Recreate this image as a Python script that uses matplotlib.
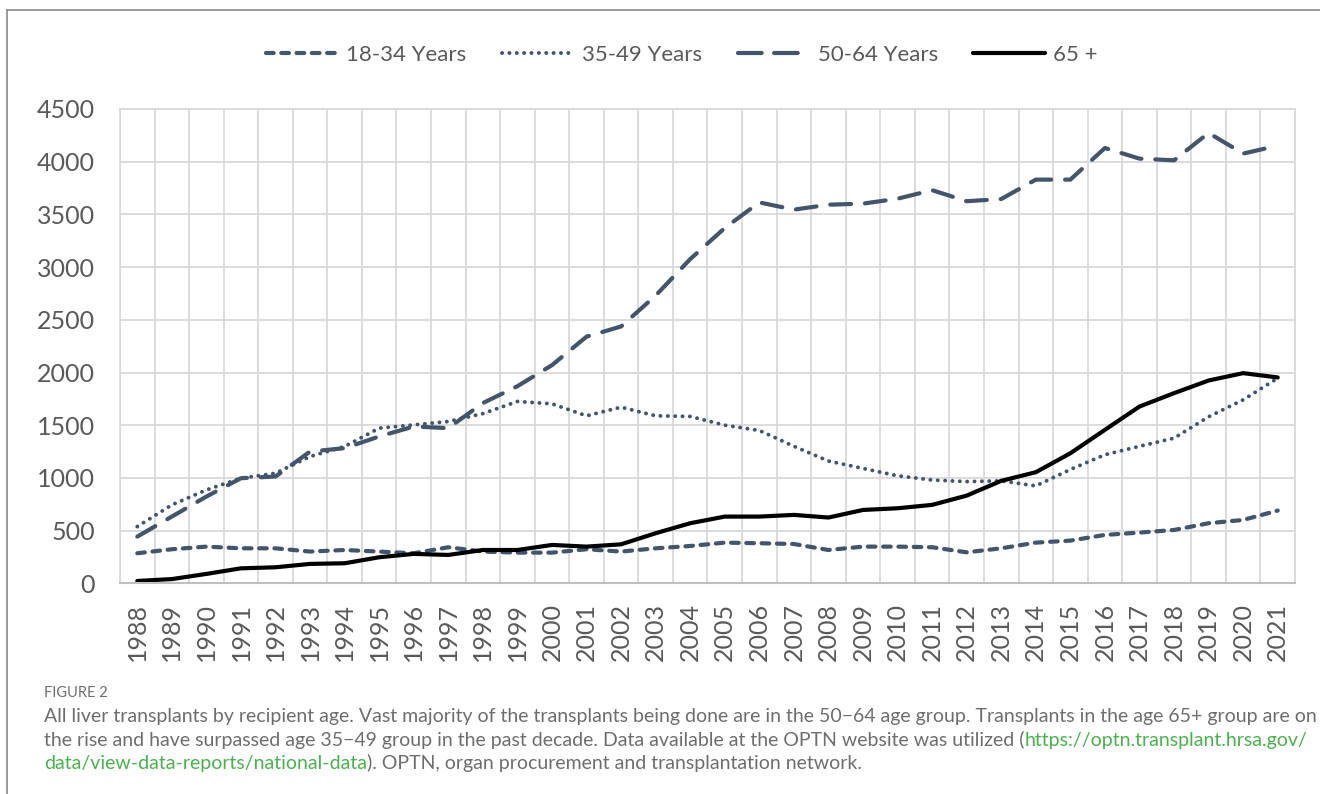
import numpy as np
import matplotlib.pyplot as plt
from matplotlib.lines import Line2D

# Liver transplants by recipient age group, 1988-2021
years = [str(y) for y in range(1988, 2022)]
age_18_34 = [285, 323, 348, 332, 332, 301, 316, 301, 285, 342, 301, 291, 291, 323,
             301, 332, 354, 386, 380, 373, 316, 348, 348, 342, 294, 332, 386, 405,
             459, 481, 506, 570, 601, 690]
age_35_49 = [538, 744, 886, 997, 1044, 1203, 1298, 1472, 1503, 1535, 1610, 1725, 1703, 1589,
             1671, 1589, 1583, 1500, 1450, 1300, 1160, 1090, 1020, 980, 965, 972, 924, 1080,
             1220, 1300, 1377, 1580, 1741, 1946]
age_50_64 = [443, 633, 823, 997, 1013, 1250, 1282, 1393, 1488, 1472, 1710, 1870, 2070, 2340,
             2437, 2730, 3076, 3371, 3614, 3545, 3592, 3602, 3649, 3730, 3625, 3646, 3830, 3830,
             4130, 4029, 4013, 4273, 4077, 4152]
age_65_plus = [22, 40, 89, 142, 152, 184, 190, 247, 279, 269, 316, 316, 364, 348,
               370, 475, 570, 633, 633, 649, 624, 696, 712, 744, 832, 972, 1054, 1234,
               1456, 1677, 1804, 1924, 1994, 1953]

labels = ["18-34 Years", "35-49 Years", "50-64 Years", "65 +"]
slate = "#44546A"
text_grey = "#595959"

plt.rcParams['lines.scale_dashes'] = False
plt.rcParams['font.family'] = ['Lato', 'DejaVu Sans']

fig = plt.figure(figsize=(13.2, 7.94), dpi=100)
ax = fig.add_axes([120 / 1320, 1 - 583.3 / 794, 1175 / 1320, 474.3 / 794])

x = np.arange(len(years))
styles = [
    dict(color=slate, lw=3, dashes=(5.5, 5.5), dash_capstyle='round'),
    dict(color=slate, lw=2.8, dashes=(0.1, 5.2), dash_capstyle='round'),
    dict(color=slate, lw=3, dashes=(15, 10), dash_capstyle='round'),
    dict(color='black', lw=3, solid_capstyle='round'),
]
series = [age_18_34, age_35_49, age_50_64, age_65_plus]
for vals, st, lab in zip(series, styles, labels):
    ax.plot(x, vals, label=lab, **st)

# legend proxies (the long dash needs a shorter pattern to show two dashes)
legend_styles = [dict(st) for st in styles]
legend_styles[2]['dashes'] = (17, 9)
handles = [Line2D([], [], **st) for st in legend_styles]

ax.set_xlim(-0.5, len(years) - 0.5)
ax.set_ylim(0, 4500)
ax.set_yticks(np.arange(0, 4501, 500))
ax.set_xticks(x)
ax.set_xticklabels(years, rotation=90)
ax.set_xticks(np.arange(-0.5, len(years)), minor=True)
ax.grid(which='minor', axis='x', color='#d9d9d9', lw=1.3)
ax.grid(which='major', axis='y', color='#d9d9d9', lw=1.3)
ax.set_axisbelow(True)
ax.tick_params(which='both', length=0, labelsize=18, colors=text_grey)
ax.tick_params(axis='y', pad=18)
ax.tick_params(axis='x', pad=14)
for side in ['top', 'right', 'left']:
    ax.spines[side].set_color('#d9d9d9')
    ax.spines[side].set_linewidth(1.3)
ax.spines['bottom'].set_color('#bfbfbf')
ax.spines['bottom'].set_linewidth(1.5)

fig.legend(handles=handles, labels=labels, loc='center',
           bbox_to_anchor=(682 / 1320, 1 - 55 / 794), ncol=4, frameon=False,
           handlelength=3.2, columnspacing=1.6, handletextpad=0.4,
           fontsize=16, labelcolor=text_grey)

# outer frame of the figure panel
fig.add_artist(Line2D([7 / 1320, 1], [1 - 10 / 794, 1 - 10 / 794], color='#888888', lw=1.2))
fig.add_artist(Line2D([7 / 1320, 7 / 1320], [0, 1 - 10 / 794], color='#888888', lw=1.2))

# caption
cap_grey = "#6d6d6d"
link_green = "#4CAF50"
fig.text(44 / 1320, 1 - 697 / 794, "FIGURE 2", fontsize=10.5, color=cap_grey, va='baseline')

caption = [
    [("All liver transplants by recipient age. Vast majority of the transplants being done are in the "
      "50\u221264 age group. Transplants in the age 65+ group are on", cap_grey)],
    [("the rise and have surpassed age 35\u221249 group in the past decade. Data available at the "
      "OPTN website was utilized (", cap_grey), ("https://optn.transplant.hrsa.gov/", link_green)],
    [("data/view-data-reports/national-data", link_green),
     ("). OPTN, organ procurement and transplantation network.", cap_grey)],
]
renderer = fig.canvas.get_renderer()
base_y = [722, 746, 769]
for parts, by in zip(caption, base_y):
    xpos = 44
    for s, c in parts:
        t = fig.text(xpos / 1320, 1 - by / 794, s, fontsize=14, color=c, va='baseline')
        xpos += t.get_window_extent(renderer).width

fig.savefig("out.png", dpi=100)
